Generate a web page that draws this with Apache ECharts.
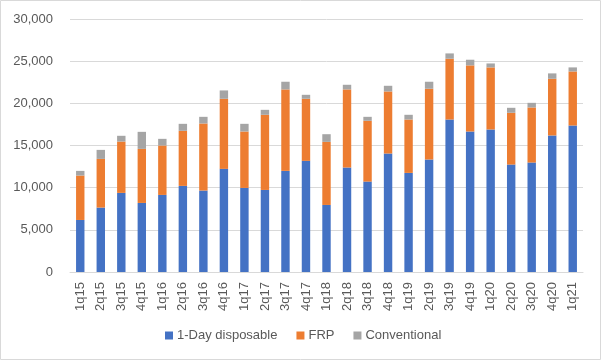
<!DOCTYPE html>
<html><head><meta charset="utf-8">
<script src="https://cdn.jsdelivr.net/npm/echarts@6/dist/echarts.min.js"></script>
<style>html,body{margin:0;padding:0;background:#fff}#c{width:602px;height:361px}</style>
</head><body><div id="c"></div>
<script>
const categories = ['1q15','2q15','3q15','4q15','1q16','2q16','3q16','4q16','1q17','2q17','3q17','4q17','1q18','2q18','3q18','4q18','1q19','2q19','3q19','4q19','1q20','2q20','3q20','4q20','1q21'];
const oneDay = [6170,7640,9380,8190,9140,10210,9660,12230,9970,9730,11990,13180,7950,12390,10720,14050,11750,13340,18080,16660,16900,12740,12980,16190,17370];
const frp = [5270,5770,6090,6410,5860,6530,7950,8310,6690,8910,9660,7360,7480,9260,7210,7360,6330,8390,7210,7840,7360,6140,6530,6720,6410];
const conventional = [550,1070,680,2020,790,830,790,990,910,590,910,470,910,550,470,670,560,830,630,670,470,590,550,640,480];
const seriesNames = ['1-Day disposable','FRP','Conventional'];
const colors = ['#4472C4','#ED7D31','#A5A5A5'];
const FONT = '"Liberation Sans", Arial, sans-serif';
const chart = echarts.init(document.getElementById('c'));
const data = [oneDay, frp, conventional];
chart.setOption({
  animation: false,
  textStyle: {fontFamily: FONT},
  graphic: [{type:'rect', shape:{x:0.5,y:0.5,width:600,height:359}, style:{fill:'none', stroke:'#d9d9d9', lineWidth:1}}],
  grid: {left:70, right:19, top:19, bottom:89},
  legend: {
    data: seriesNames, top: 329, left: 165, itemWidth: 8, itemHeight: 8, itemGap: 19,
    padding: 0, icon: 'rect', textStyle: {fontSize: 13, color: '#595959', fontFamily: FONT, padding: [0,0,0,-1]}
  },
  xAxis: {
    type: 'category', data: categories,
    axisLine: {lineStyle: {color: '#d9d9d9'}}, axisTick: {show: false},
    axisLabel: {rotate: 90, fontSize: 13, color: '#595959', margin: 10, interval: 0, fontFamily: FONT}
  },
  yAxis: {
    type: 'value', min: 0, max: 30000, interval: 5000,
    axisLine: {show: false}, axisTick: {show: false},
    splitLine: {lineStyle: {color: '#d9d9d9'}},
    axisLabel: {fontSize: 13, color: '#595959', margin: 17, fontFamily: FONT,
      formatter: v => v.toLocaleString('en-US')}
  },
  series: seriesNames.map((n, i) => ({
    name: n, type: 'bar', stack: 'total', data: data[i], barWidth: '41%',
    itemStyle: {color: colors[i]}
  }))
});
</script></body></html>
